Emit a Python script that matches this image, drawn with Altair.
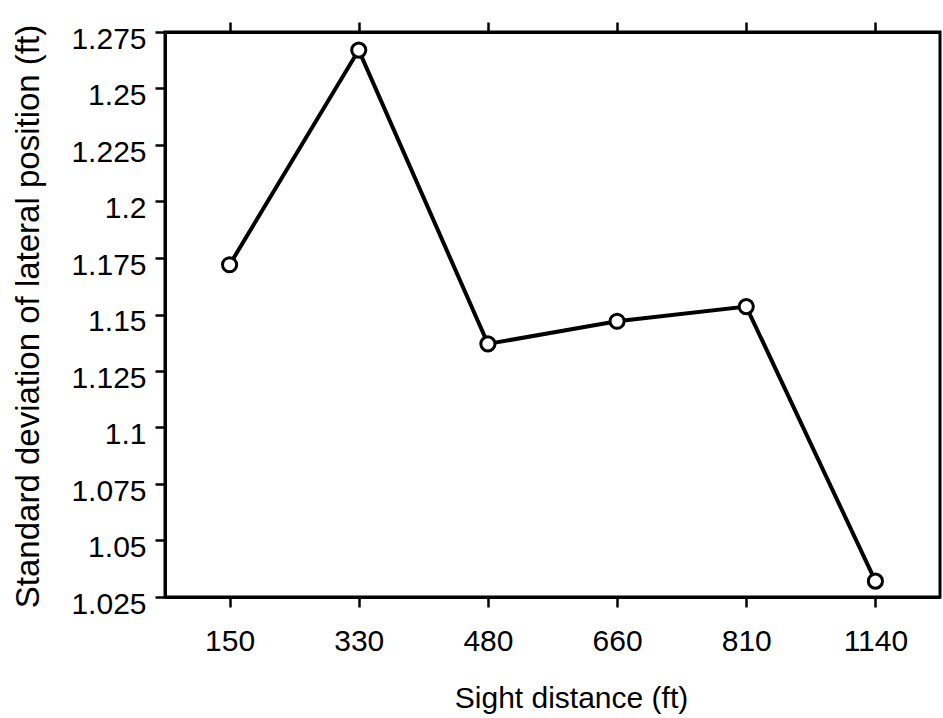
import altair as alt
import pandas as pd

# Sight distance conditions (ft) and the measured standard deviation of lateral position (ft)
sight_distance = ["150", "330", "480", "660", "810", "1140"]
sd_lateral = [1.172, 1.267, 1.137, 1.147, 1.1535, 1.032]

# Y axis: labelled ticks every 0.025, unlabelled minor ticks halfway between
y_ticks = [round(1.025 + 0.0125 * k, 4) for k in range(21)]

df = pd.DataFrame({"sight": sight_distance, "sd": sd_lateral})

FONT = "Liberation Sans"
major_test = "abs(round(datum.value * 1000) % 25) < 0.5"

x_scale = alt.Scale(domain=sight_distance, padding=0.5)
y_scale = alt.Scale(domain=[1.025, 1.275], nice=False, zero=False)

x_bottom = alt.X(
    "sight:O",
    scale=x_scale,
    sort=sight_distance,
    axis=alt.Axis(
        orient="bottom",
        title="Sight distance (ft)",
        labelAngle=0,
        labelFontSize=30,
        labelPadding=19,
        labelBaseline="top",
        titleFontSize=30,
        titleFontWeight="normal",
        titleX=406,
        titleY=101,
        titleBaseline="middle",
        titleAnchor="middle",
        titleAlign="center",
        tickSize=10,
        tickWidth=2.5,
        domainWidth=3,
    ),
)

y_left = alt.Y(
    "sd:Q",
    scale=y_scale,
    axis=alt.Axis(
        values=y_ticks,
        format=".4~f",
        labelExpr=f"{major_test} ? datum.label : ''",
        tickSize={"condition": {"test": major_test, "value": 10}, "value": 6},
        tickWidth=2.5,
        domainWidth=3,
        labelFontSize=30,
        labelPadding=9,
        labelOffset=7,
        title="Standard deviation of lateral position (ft)",
        titleFontSize=33,
        titleFontWeight="normal",
        titleX=-137,
        titleY=284,
        titleBaseline="middle",
        titleAlign="center",
        titleAngle=270,
        grid=False,
    ),
)

line = alt.Chart(df).mark_line(color="black", strokeWidth=4).encode(x=x_bottom, y=y_left)

points = alt.Chart(df).mark_point(
    shape="circle", filled=True, fill="white", stroke="black",
    strokeWidth=3, size=200, opacity=1,
).encode(
    x=alt.X(
        "sight:O",
        scale=x_scale,
        sort=sight_distance,
        axis=alt.Axis(
            orient="top", labels=False, title=None, tickSize=10,
            tickWidth=2.5, domainWidth=3,
        ),
    ),
    y=alt.Y("sd:Q", scale=y_scale),
)

chart = (
    alt.layer(line, points)
    .properties(
        width=775,
        height=565,
        autosize=alt.AutoSizeParams(type="none"),
        padding={"left": 165, "top": 32, "right": 3, "bottom": 121},
    )
    .configure_view(stroke="black", strokeWidth=3)
    .configure_axis(
        labelFont=FONT, titleFont=FONT, labelColor="black", titleColor="black",
        domainColor="black", tickColor="black", grid=False,
    )
)

chart.save("out.html", embed_options={"renderer": "svg", "actions": False})
